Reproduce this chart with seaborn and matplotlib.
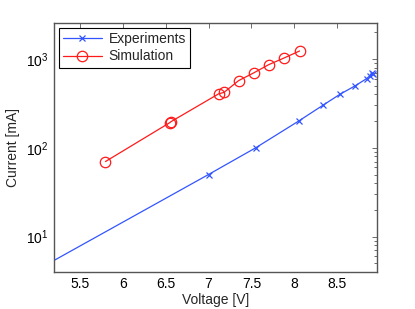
import numpy as np
import pandas as pd
import matplotlib
matplotlib.use("Agg")
import matplotlib.pyplot as plt
import matplotlib.ticker as mticker
import seaborn as sns

# Data
exp_voltage = [5.0, 7.0, 7.55, 8.05, 8.33, 8.53, 8.71, 8.84, 8.88, 8.90, 8.92]
exp_current = [4.2, 50, 100, 200, 300, 400, 500, 600, 650, 700, 670]

sim_voltage = [5.80, 6.55, 6.56, 7.12, 7.18, 7.35, 7.53, 7.70, 7.88, 8.06]
sim_current = [70, 192, 196, 406, 420, 570, 700, 862, 1026, 1230]

x_ticks = [5.5, 6, 6.5, 7, 7.5, 8, 8.5]

exp_df = pd.DataFrame({"Voltage": exp_voltage, "Current": exp_current})
sim_df = pd.DataFrame({"Voltage": sim_voltage, "Current": sim_current})

sns.set_style("white")
plt.rcParams["font.family"] = ["Liberation Sans", "DejaVu Sans"]
plt.rcParams["font.size"] = 10

blue = "#3355ff"
red = "#ff1a1a"

fig = plt.figure(figsize=(4.15, 3.09), dpi=100)
ax = fig.add_axes([0.130, 0.120, 0.778, 0.806])

sns.lineplot(data=exp_df, x="Voltage", y="Current", ax=ax, sort=False,
             color=blue, lw=0.9, marker="x", markersize=5,
             markeredgecolor=blue, markeredgewidth=0.9, label="Experiments")
sns.lineplot(data=sim_df, x="Voltage", y="Current", ax=ax, sort=False,
             color=red, lw=0.9, marker="o", markersize=7.5,
             markerfacecolor="none", markeredgecolor=red,
             markeredgewidth=0.9, label="Simulation")

ax.set_yscale("log")
ax.set_xlim(5.2, 8.96)
ax.set_ylim(4, 2550)
ax.set_xticks(x_ticks)
ax.xaxis.set_major_formatter(mticker.FormatStrFormatter("%g"))
ax.yaxis.set_major_locator(mticker.LogLocator(base=10, numticks=10))
ax.yaxis.set_minor_locator(mticker.LogLocator(base=10, subs=np.arange(2, 10), numticks=10))
ax.yaxis.set_minor_formatter(mticker.NullFormatter())

ax.set_xlabel("Voltage [V]", fontsize=10, labelpad=1)
ax.set_ylabel("Current [mA]", fontsize=10, labelpad=4)

for s in ax.spines.values():
    s.set_color("#555555")
    s.set_linewidth(1.0)
ax.tick_params(which="both", direction="in", top=True, right=True,
               colors="#555555", labelcolor="black", labelsize=10)
ax.tick_params(which="major", length=3.5, width=0.6, pad=4)
ax.tick_params(which="minor", length=2, width=0.6)

leg = ax.legend(loc="upper left", fancybox=False, framealpha=1,
                edgecolor="black", fontsize=10, handlelength=2.8,
                borderaxespad=0.35, borderpad=0.3, labelspacing=0.25,
                handletextpad=0.5)
leg.get_frame().set_linewidth(0.8)

fig.savefig("out.png", dpi=100)
